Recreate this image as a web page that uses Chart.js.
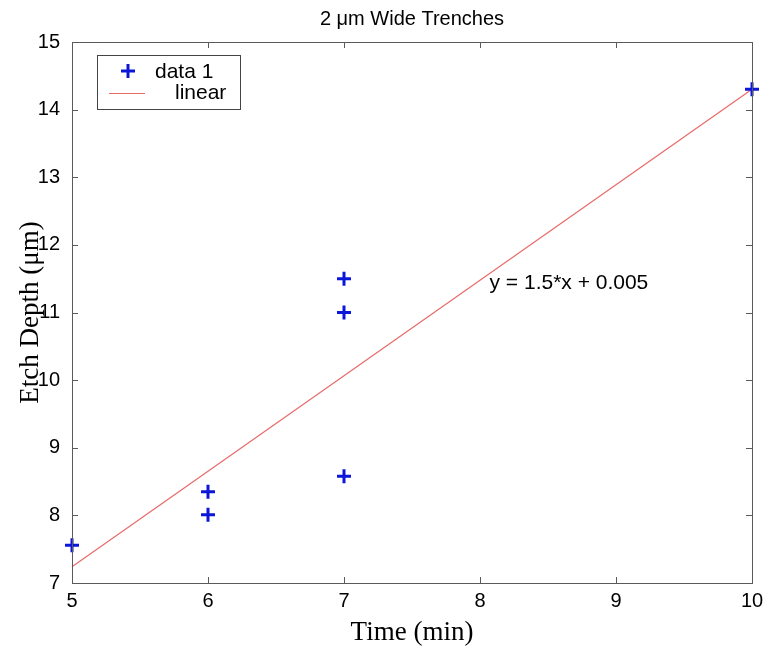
<!DOCTYPE html>
<html>
<head>
<meta charset="utf-8">
<script src="https://cdn.jsdelivr.net/npm/chart.js@4/dist/chart.umd.min.js"></script>
<style>
  html, body { margin: 0; padding: 0; background: #fff; }
  #wrap { width: 766px; height: 652px; }
</style>
</head>
<body>
<div id="wrap"><canvas id="chart" width="766" height="652"></canvas></div>
<script>
// data
const timeMin = [5, 6, 6, 7, 7, 7, 10];
const etchDepth = [7.56, 8.35, 8.01, 8.58, 11.0, 11.5, 14.3];
const fitX = [5, 10];
const fitY = [7.24, 14.3];
const xTicks = [5, 6, 7, 8, 9, 10];
const yTicks = [7, 8, 9, 10, 11, 12, 13, 14, 15];
const fitText = 'y = 1.5*x + 0.005';
const chartTitle = '2 \u03bcm Wide Trenches';

const blue = '#0c16d8';
const red = '#e86a6a';
const axisGray = '#5a5a5a';
const sans = '"Liberation Sans", Arial, sans-serif';
const serif = '"Liberation Serif", "Times New Roman", serif';

// box, inward ticks, title, legend and fit label
const matlabDecor = {
  id: 'matlabDecor',
  afterDatasetsDraw(chart) {
    const { ctx, chartArea: a, scales: { x, y } } = chart;
    ctx.save();
    ctx.strokeStyle = axisGray;
    ctx.lineWidth = 1;
    ctx.strokeRect(a.left + 0.5, a.top + 0.5, a.right - a.left, a.bottom - a.top);
    const tl = 6;
    ctx.beginPath();
    xTicks.forEach(v => {
      const px = Math.round(x.getPixelForValue(v)) + 0.5;
      ctx.moveTo(px, a.bottom); ctx.lineTo(px, a.bottom - tl);
      ctx.moveTo(px, a.top); ctx.lineTo(px, a.top + tl);
    });
    yTicks.forEach(v => {
      const py = Math.round(y.getPixelForValue(v)) + 0.5;
      ctx.moveTo(a.left, py); ctx.lineTo(a.left + tl, py);
      ctx.moveTo(a.right, py); ctx.lineTo(a.right - tl, py);
    });
    ctx.stroke();

    // title
    ctx.fillStyle = '#000';
    ctx.font = '20px ' + sans;
    ctx.textAlign = 'center';
    ctx.textBaseline = 'middle';
    ctx.fillText(chartTitle, (a.left + a.right) / 2, 19);

    // fit equation
    ctx.font = '21px ' + sans;
    ctx.textAlign = 'left';
    ctx.fillText(fitText, x.getPixelForValue(8.07), y.getPixelForValue(11.44));

    // legend
    const lx = a.left + 25, ly = a.top + 13, lw = 143, lh = 54;
    ctx.fillStyle = '#fff';
    ctx.fillRect(lx, ly, lw, lh);
    ctx.strokeStyle = '#444';
    ctx.strokeRect(lx + 0.5, ly + 0.5, lw, lh);
    const ds = chart.data.datasets;
    // cross marker
    ctx.strokeStyle = blue;
    ctx.lineWidth = 3;
    ctx.beginPath();
    ctx.moveTo(lx + 24, ly + 16); ctx.lineTo(lx + 38, ly + 16);
    ctx.moveTo(lx + 31, ly + 9); ctx.lineTo(lx + 31, ly + 23);
    ctx.stroke();
    // line marker
    ctx.strokeStyle = red;
    ctx.lineWidth = 1;
    ctx.beginPath();
    ctx.moveTo(lx + 12, ly + 38.5); ctx.lineTo(lx + 48, ly + 38.5);
    ctx.stroke();
    ctx.fillStyle = '#000';
    ctx.font = '21px ' + sans;
    ctx.fillText(ds[0].label, lx + 58, ly + 17);
    ctx.fillText(ds[1].label, lx + 78, ly + 38);
    ctx.restore();
  }
};

new Chart(document.getElementById('chart'), {
  type: 'scatter',
  data: {
    datasets: [
      {
        label: 'data 1',
        data: timeMin.map((t, i) => ({ x: t, y: etchDepth[i] })),
        pointStyle: 'cross',
        pointRadius: 7,
        pointBorderWidth: 3,
        borderColor: blue,
        backgroundColor: blue,
        clip: false,
        order: 0
      },
      {
        label: 'linear',
        type: 'line',
        data: fitX.map((t, i) => ({ x: t, y: fitY[i] })),
        borderColor: red,
        borderWidth: 1.2,
        pointRadius: 0,
        fill: false,
        clip: false,
        order: 1
      }
    ]
  },
  plugins: [matlabDecor],
  options: {
    responsive: false,
    animation: false,
    layout: { padding: { left: 0, top: 42, right: 14, bottom: 0 } },
    plugins: { legend: { display: false }, tooltip: { enabled: false } },
    scales: {
      x: {
        type: 'linear', min: 5, max: 10,
        afterBuildTicks: s => { s.ticks = xTicks.map(v => ({ value: v })); },
        afterFit: s => { s.height = 69; s.paddingLeft = 0; s.paddingRight = 0; },
        grid: { display: false, drawTicks: false },
        border: { display: false },
        ticks: { color: '#000', padding: 6, font: { family: sans, size: 20 } },
        title: { display: true, text: 'Time (min)', color: '#000', padding: { top: 0, bottom: 3 },
          font: { family: serif, size: 27 } }
      },
      y: {
        type: 'linear', min: 7, max: 15,
        afterBuildTicks: s => { s.ticks = yTicks.map(v => ({ value: v })); },
        afterFit: s => { s.width = 72; s.paddingTop = 0; s.paddingBottom = 0; },
        grid: { display: false, drawTicks: false },
        border: { display: false },
        ticks: { color: '#000', padding: 12, font: { family: sans, size: 20 } },
        title: { display: true, text: 'Etch Depth (\u03bcm)', color: '#000', padding: { top: 15, bottom: 0 },
          font: { family: serif, size: 27 } }
      }
    }
  }
});
</script>
</body>
</html>
